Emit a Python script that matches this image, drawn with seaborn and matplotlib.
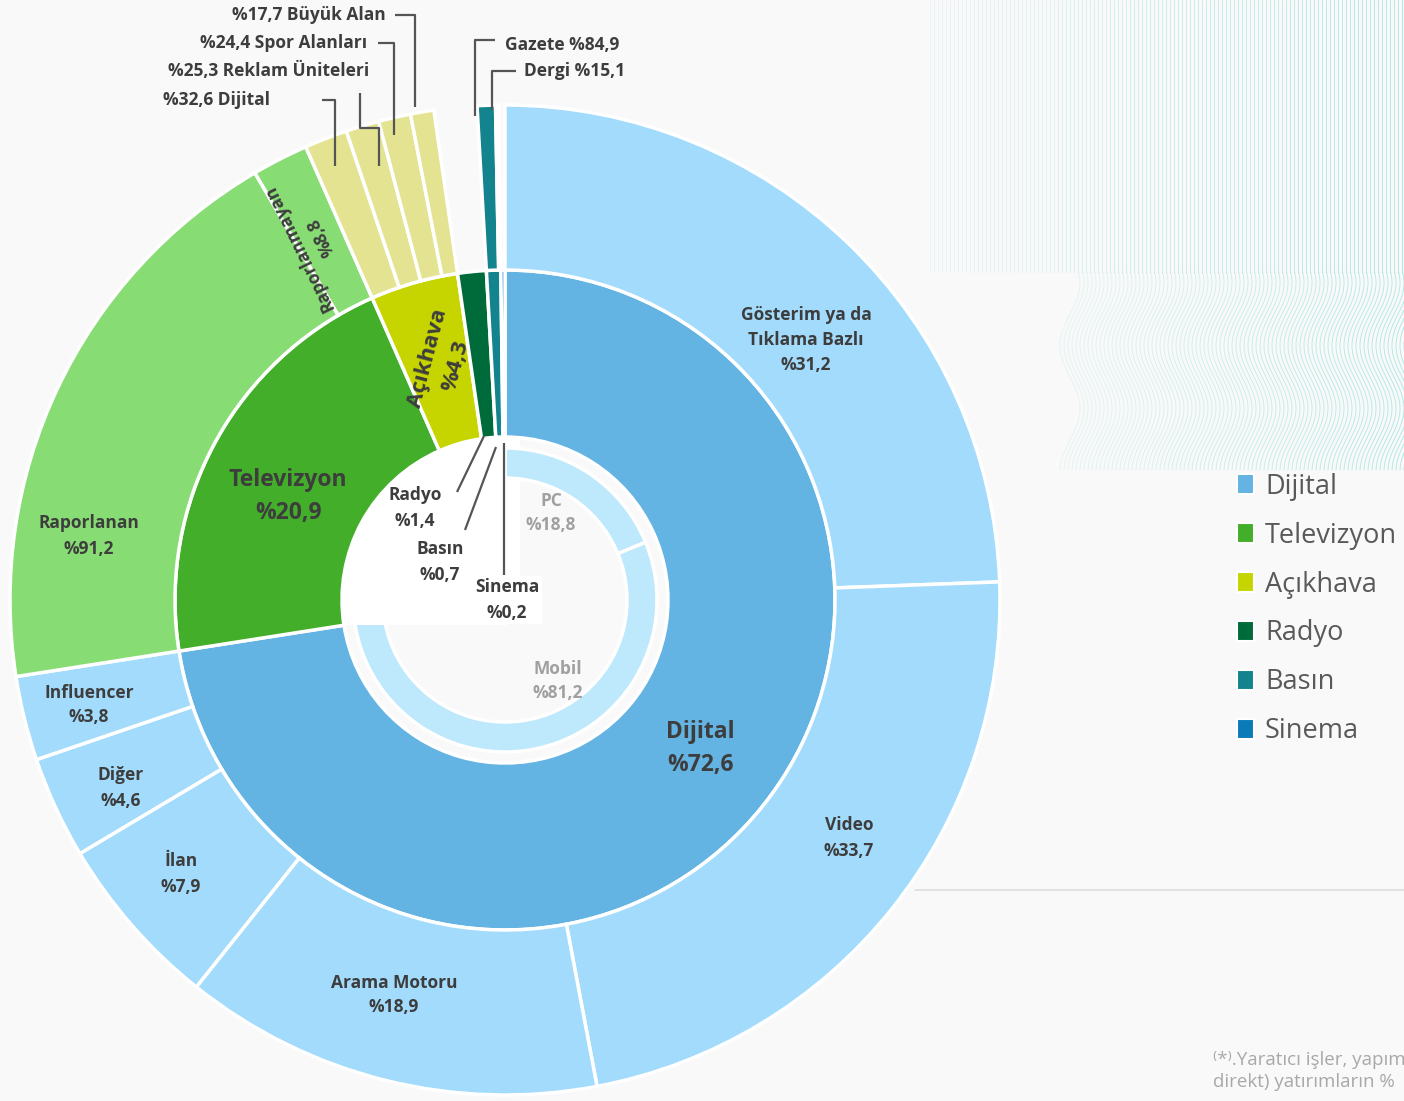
import numpy as np
import matplotlib.pyplot as plt
import seaborn as sns
from matplotlib.patches import Patch, Rectangle

sns.set_theme(style="white")
plt.rcParams['font.family'] = ['Open Sans', 'DejaVu Sans']

# orta halka: ana mecralar
kategoriler = ["Dijital", "Televizyon", "Açıkhava", "Radyo", "Basın", "Sinema"]
paylar = [72.6, 20.9, 4.3, 1.4, 0.7, 0.2]
renkler = ["#63B3E3", "#43AE2A", "#C6D500", "#006B3A", "#13838D", "#0B7BB8"]

# dis halka: dijital kirilim (yay boylari)
dijital_alt = ["Gösterim ya da\nTıklama Bazlı", "Video", "Arama Motoru", "İlan", "Diğer", "Influencer"]
dijital_alt_pay = [33.7, 31.2, 18.9, 7.9, 4.6, 3.8]
dijital_alt_yazi = ["%31,2", "%33,7", "%18,9", "%7,9", "%4,6", "%3,8"]

tv_alt = ["Raporlanan", "Raporlanmayan"]
tv_alt_pay = [91.2, 8.8]

acik_alt = ["Dijital", "Reklam Üniteleri", "Spor Alanları", "Büyük Alan"]
acik_alt_pay = [32.6, 25.3, 24.4, 17.7]

basin_alt = ["Gazete", "Dergi"]
basin_alt_pay = [84.9, 15.1]

# ic halka: cihaz kirilimi
cihaz = ["PC", "Mobil"]
cihaz_pay = [18.8, 81.2]

W, H = 1404, 1101
fig = plt.figure(figsize=(W / 100, H / 100), dpi=100)
fig.patch.set_facecolor("#f9f9f9")
ax = fig.add_axes([0, 0, 1, 1])
ax.set_facecolor("#f9f9f9")

def py(y):
    # piksel y -> cizim y
    return H - y

def yuzde(v):
    return f"%{v:.1f}".replace(".", ",")

cx, cy = 505, py(600)
R_out, R_mid, R_in = 495, 330, 163

# arka plan dokusu (sag ust)
yy = np.linspace(0, 272, 60)
for x0 in np.arange(930, W, 4):
    a = 0.12 + 0.40 * (x0 - 930) / (W - 930)
    ax.plot(np.full_like(yy, x0), py(yy), color="#6fd9d0", lw=0.7, alpha=a, zorder=0)
yy = np.linspace(272, 470, 120)
for x0 in np.arange(1070, W + 15, 4):
    a = 0.15 + 0.35 * (x0 - 1070) / (W - 1070)
    ax.plot(x0 + 10 * np.sin(yy / 20), py(yy), color="#6fd9d0", lw=0.7, alpha=a, zorder=0)
ax.plot([915, W], [py(890), py(890)], color="#dedede", lw=1.2, zorder=0)

# ic halka
ax.pie(cihaz_pay, radius=152, center=(cx, cy), startangle=90, counterclock=False,
       colors=["#BEE8FC", "#BEE8FC"],
       wedgeprops=dict(width=30, edgecolor="white", linewidth=2.5, zorder=1))
ax.add_patch(Rectangle((330, py(625)), 177, 190, facecolor="white", edgecolor="none", zorder=2))
ax.add_patch(Rectangle((320, py(600)), 200, 170, facecolor="white", edgecolor="none", zorder=0.5))

# orta halka
ax.pie(paylar, radius=R_mid, center=(cx, cy), startangle=90, counterclock=False,
       colors=renkler,
       wedgeprops=dict(width=R_mid - R_in, edgecolor="white", linewidth=2.5, zorder=3))

# dis halka
dis = [paylar[0] * v / sum(dijital_alt_pay) for v in dijital_alt_pay]
dis += [paylar[1] * v / 100 for v in tv_alt_pay]
dis += [paylar[2] * v / 100 for v in acik_alt_pay]
dis += [paylar[3]]
dis += [paylar[4] * v / 100 for v in basin_alt_pay]
dis += [paylar[5]]
dis_renk = (["#A2DBFC"] * len(dijital_alt_pay) + ["#88DC74"] * len(tv_alt_pay)
            + ["#E3E392"] * len(acik_alt_pay) + ["none"] + ["#13838D"] * len(basin_alt_pay) + ["none"])
wedges, _ = ax.pie(dis, radius=R_out, center=(cx, cy), startangle=90, counterclock=False,
                   colors=dis_renk,
                   wedgeprops=dict(width=R_out - R_mid, edgecolor="white", linewidth=2.5, zorder=3))
for w, c in zip(wedges, dis_renk):
    if c == "none":
        w.set_edgecolor("none")

ax.set_xlim(0, W)
ax.set_ylim(0, H)
ax.set_aspect("equal")
ax.axis("off")

koyu = "#3d3d3d"
gri = "#a0a0a0"
fs = 12.5

def yaz(x, y, s, size=fs, color=koyu, **kw):
    ax.text(x, py(y), s, ha="center", va="center", fontsize=size, fontweight="bold",
            color=color, linespacing=1.5, zorder=6, **kw)

# dijital kirilim etiketleri
dijital_yer = [(806, 340), (849, 838), (394, 995), (181, 874), (121, 788), (89, 705)]
for ad, yazi, (x, y) in zip(dijital_alt, dijital_alt_yazi, dijital_yer):
    yaz(x, y, f"{ad}\n{yazi}")

yaz(89, 536, f"{tv_alt[0]}\n{yuzde(tv_alt_pay[0])}")
yaz(310, 242, f"{tv_alt[1]}\n{yuzde(tv_alt_pay[1])}", rotation=116)

yaz(700, 748, f"{kategoriler[0]}\n{yuzde(paylar[0])}", size=16.5)
yaz(288, 497, f"{kategoriler[1]}\n{yuzde(paylar[1])}", size=16.5)
yaz(442, 362, f"{kategoriler[2]}\n{yuzde(paylar[2])}", size=16, rotation=75)
yaz(415, 508, f"{kategoriler[3]}\n{yuzde(paylar[3])}")
yaz(440, 562, f"{kategoriler[4]}\n{yuzde(paylar[4])}")
ax.text(507, py(600), f"{kategoriler[5]}\n{yuzde(paylar[5])}", ha="center", va="center",
        fontsize=fs, fontweight="bold", color=koyu, linespacing=1.5, zorder=6,
        bbox=dict(facecolor="white", edgecolor="none", pad=2))
yaz(551, 513, f"{cihaz[0]}\n{yuzde(cihaz_pay[0])}", color=gri)
yaz(558, 681, f"{cihaz[1]}\n{yuzde(cihaz_pay[1])}", color=gri)

# ust etiketler ve cizgiler
cz = dict(color="#555555", lw=1.6, zorder=5, solid_capstyle="butt")
ax.plot([457, 484], [py(492), py(436)], **cz)
ax.plot([465, 496], [py(530), py(447)], **cz)
ax.plot([504, 504], [py(443), py(575)], **cz)

acik_yer = [(270, 100), (369, 71), (367, 43), (386, 15)]
for ad, v, (x, y) in zip(acik_alt, acik_alt_pay, acik_yer):
    ax.text(x, py(y), f"{yuzde(v)} {ad}", ha="right", va="center", fontsize=fs,
            fontweight="bold", color=koyu, zorder=6)
ax.plot([322, 335, 335], [py(100), py(100), py(166)], **cz)
ax.plot([360, 360, 379, 379], [py(93), py(128), py(128), py(166)], **cz)
ax.plot([378, 394, 394], [py(43), py(43), py(135)], **cz)
ax.plot([395, 415, 415], [py(15), py(15), py(107)], **cz)

basin_yer = [(505, 45), (524, 71)]
for ad, v, (x, y) in zip(basin_alt, basin_alt_pay, basin_yer):
    ax.text(x, py(y), f"{ad} {yuzde(v)}", ha="left", va="center", fontsize=fs,
            fontweight="bold", color=koyu, zorder=6)
ax.plot([495, 475, 475], [py(40), py(40), py(116)], **cz)
ax.plot([516, 492, 492], [py(71), py(71), py(110)], **cz)

# lejant
tutucu = [Patch(facecolor=c, edgecolor="white", linewidth=1.5) for c in renkler]
fig.legend(tutucu, kategoriler, loc="upper left", bbox_to_anchor=(1226 / W, 1 - 462 / H),
           frameon=False, fontsize=19.5, labelcolor="#595959", handlelength=0.62,
           handleheight=0.75, handletextpad=0.42, labelspacing=0.77, borderaxespad=0)

# dipnot
ax.text(1213, py(1060), "⁽*⁾.Yaratıcı işler, yapım", ha="left", va="center",
        fontsize=13.5, color="#a8a8a8", zorder=6)
ax.text(1213, py(1082), "direkt) yatırımların %", ha="left", va="center",
        fontsize=13.5, color="#a8a8a8", zorder=6)

fig.savefig("out.png", dpi=100, facecolor=fig.get_facecolor())
